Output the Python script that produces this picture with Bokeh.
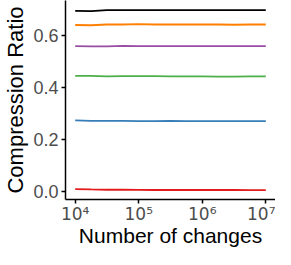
import numpy as np
from bokeh.plotting import figure
from bokeh.models import FixedTicker, Range1d
from bokeh.embed import file_html
from bokeh.resources import INLINE

changes = [1e4, 1.78e4, 3.16e4, 5.62e4, 1e5, 1.78e5, 3.16e5, 5.62e5, 1e6, 1.78e6, 3.16e6, 5.62e6, 1e7]
s_black  = [0.694, 0.693, 0.697, 0.697, 0.697, 0.697, 0.697, 0.697, 0.697, 0.697, 0.697, 0.697, 0.697]
s_orange = [0.640, 0.639, 0.642, 0.642, 0.643, 0.642, 0.642, 0.642, 0.642, 0.642, 0.641, 0.642, 0.642]
s_purple = [0.559, 0.558, 0.558, 0.560, 0.559, 0.559, 0.559, 0.559, 0.559, 0.559, 0.559, 0.559, 0.559]
s_green  = [0.445, 0.445, 0.443, 0.444, 0.444, 0.444, 0.443, 0.443, 0.443, 0.442, 0.442, 0.443, 0.443]
s_blue   = [0.274, 0.272, 0.272, 0.272, 0.271, 0.271, 0.272, 0.271, 0.271, 0.271, 0.271, 0.271, 0.271]
s_red    = [0.0106, 0.009, 0.008, 0.008, 0.0075, 0.007, 0.007, 0.007, 0.007, 0.007, 0.007, 0.0067, 0.0067]

series = [
    (s_black, "#000000"),
    (s_orange, "#FF7F00"),
    (s_purple, "#984EA3"),
    (s_green, "#4DAF4A"),
    (s_blue, "#377EB8"),
    (s_red, "#E41A1C"),
]

x_ticks = [1e4, 1e5, 1e6, 1e7]
x_tick_labels = ["10⁴", "10⁵", "10⁶", "10⁷"]
y_ticks = [0.0, 0.2, 0.4, 0.6]
y_tick_labels = ["0.0", "0.2", "0.4", "0.6"]

p = figure(width=275, height=249, x_axis_type="log",
           x_range=Range1d(10**3.847, 10**7.153), y_range=Range1d(-0.0295, 0.734),
           output_backend="svg", toolbar_location=None,
           min_border_left=59, min_border_right=0, min_border_top=0, min_border_bottom=0)

for ys, c in series:
    p.line(changes, ys, line_color=c, line_width=1.8)

p.xgrid.visible = False
p.ygrid.visible = False
p.outline_line_color = None

p.xaxis.ticker = FixedTicker(ticks=x_ticks)
p.xaxis.major_label_overrides = {t: l for t, l in zip(x_ticks, x_tick_labels)}
p.yaxis.ticker = FixedTicker(ticks=y_ticks)
p.yaxis.major_label_overrides = {t: l for t, l in zip(y_ticks, y_tick_labels)}

for ax in (p.xaxis[0], p.yaxis[0]):
    ax.axis_line_color = "black"
    ax.axis_line_width = 1.5
    ax.major_tick_line_color = "black"
    ax.major_tick_line_width = 1.5
    ax.major_tick_out = 4
    ax.major_tick_in = 0
    ax.minor_tick_line_color = None
    ax.major_label_text_font = "Liberation Sans"
    ax.major_label_text_font_size = "18px"
    ax.major_label_text_color = "#4D4D4D"
    ax.axis_label_text_font = "Liberation Sans"
    ax.axis_label_text_font_size = "22px"
    ax.axis_label_text_font_style = "normal"
    ax.axis_label_text_color = "black"
    ax.major_label_standoff = 3
    ax.axis_label_standoff = 2

p.xaxis.major_label_text_font = "DejaVu Sans"
p.xaxis.major_label_text_font_size = "17px"
p.xaxis.major_label_standoff = 0
p.xaxis.axis_label_standoff = -3
p.xaxis.axis_label_text_font_size = "21px"

p.xaxis.axis_label = "Number of changes"
p.yaxis.axis_label = "Compression Ratio"

open("out.html", "w").write(file_html(p, INLINE))
